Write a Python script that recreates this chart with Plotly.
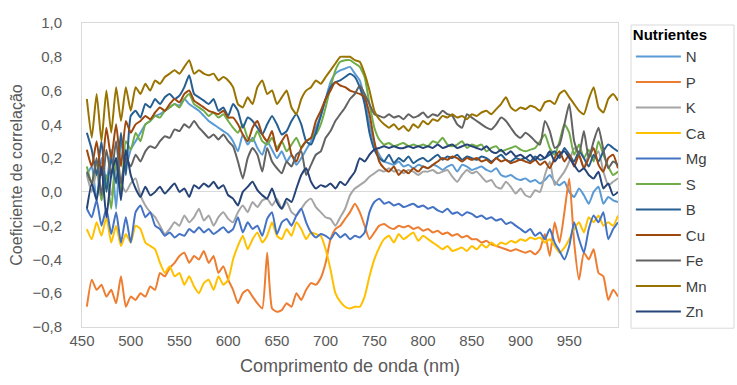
import plotly.graph_objects as go

wavelength = list(range(455, 1001, 5))

N = [0.10, 0.15, -0.05, 0.20, 0.05, 0.25, -0.10, 0.30, 0.15, 0.25,
     0.30, 0.35, 0.40, 0.42, 0.45, 0.46, 0.48, 0.50, 0.52, 0.51,
     0.55, 0.52, 0.50, 0.48, 0.45, 0.42, 0.40, 0.38, 0.36, 0.34,
     0.30, 0.24, 0.34, 0.28, 0.32, 0.26, 0.22, 0.30, 0.25, 0.20,
     0.24, 0.18, 0.22, 0.16, 0.20, 0.25, 0.30, 0.38, 0.45, 0.55,
     0.65, 0.70, 0.72, 0.73, 0.74, 0.70, 0.66, 0.55, 0.40, 0.28,
     0.22, 0.18, 0.17, 0.16, 0.18, 0.15, 0.16, 0.14, 0.16, 0.15,
     0.14, 0.16, 0.15, 0.13, 0.15, 0.16, 0.12, 0.16, 0.15, 0.13,
     0.14, 0.15, 0.13, 0.12, 0.14, 0.10, 0.09, 0.10, 0.08, 0.07,
     0.08, 0.06, 0.07, 0.05, 0.07, 0.10, 0.06, 0.04, 0.06, 0.00,
     -0.03, 0.02, -0.02, -0.07, 0.00, 0.03, -0.07, -0.03, -0.05, -0.06]

P = [-0.68, -0.52, -0.58, -0.55, -0.62, -0.58, -0.66, -0.50, -0.68, -0.62,
     -0.64, -0.60, -0.62, -0.56, -0.58, -0.48, -0.50, -0.45, -0.42, -0.38,
     -0.36, -0.42, -0.38, -0.40, -0.35, -0.42, -0.38, -0.48, -0.44, -0.52,
     -0.58, -0.66, -0.60, -0.58, -0.62, -0.66, -0.69, -0.36, -0.69, -0.71,
     -0.70, -0.66, -0.68, -0.60, -0.64, -0.58, -0.54, -0.55, -0.51, -0.42,
     -0.28, -0.22, -0.20, -0.16, -0.12, -0.07, -0.12, -0.20, -0.28, -0.24,
     -0.20, -0.19, -0.21, -0.22, -0.20, -0.21, -0.20, -0.22, -0.21, -0.23,
     -0.22, -0.24, -0.23, -0.25, -0.24, -0.26, -0.25, -0.27, -0.26, -0.28,
     -0.28, -0.30, -0.29, -0.31, -0.32, -0.33, -0.34, -0.35, -0.34, -0.35,
     -0.36, -0.35, -0.37, -0.34, -0.25, -0.38, -0.18, -0.30, -0.12, 0.08,
     -0.30, -0.52, -0.36, -0.40, -0.34, -0.48, -0.50, -0.64, -0.58, -0.62]

K = [0.10, 0.00, 0.12, -0.05, 0.08, -0.02, 0.15, 0.05, 0.00, 0.05,
     0.08, -0.02, -0.08, -0.12, -0.15, -0.20, -0.25, -0.22, -0.18, -0.20,
     -0.14, -0.18, -0.15, -0.10, -0.17, -0.14, -0.20, -0.15, -0.12, -0.16,
     -0.18, -0.12, -0.08, -0.12, -0.06, -0.09, -0.05, -0.04, -0.08, -0.04,
     -0.10, -0.06, -0.12, -0.14, -0.10, -0.06, -0.04, -0.09, -0.12, -0.15,
     -0.16, -0.20, -0.15, -0.10, -0.02, 0.02, 0.04, 0.06, 0.09, 0.11,
     0.13, 0.12, 0.14, 0.12, 0.13, 0.11, 0.13, 0.12, 0.10, 0.12,
     0.12, 0.13, 0.11, 0.12, 0.13, 0.09, 0.06, 0.10, 0.13, 0.11,
     0.12, 0.09, 0.06, 0.07, 0.03, 0.02, 0.06, 0.03, -0.01, 0.02,
     -0.02, -0.03, 0.01, 0.00, 0.10, 0.18, 0.04, 0.08, 0.12, 0.18,
     0.26, 0.22, 0.14, 0.22, 0.20, 0.24, 0.12, 0.04, 0.06, 0.08]

Ca = [-0.22, -0.28, -0.18, -0.26, -0.15, -0.30, -0.20, -0.32, -0.25, -0.30,
      -0.20, -0.22, -0.30, -0.32, -0.34, -0.42, -0.48, -0.44, -0.50, -0.48,
      -0.55, -0.50, -0.56, -0.60, -0.54, -0.52, -0.58, -0.50, -0.55, -0.52,
      -0.40, -0.32, -0.26, -0.34, -0.28, -0.24, -0.30, -0.26, -0.18, -0.26,
      -0.28, -0.22, -0.26, -0.18, -0.22, -0.28, -0.24, -0.25, -0.26, -0.34,
      -0.46, -0.60, -0.65, -0.68, -0.69, -0.68, -0.68, -0.62, -0.50, -0.40,
      -0.33, -0.28, -0.26, -0.30, -0.25, -0.28, -0.26, -0.24, -0.29, -0.26,
      -0.28, -0.30, -0.32, -0.34, -0.32, -0.35, -0.34, -0.33, -0.35, -0.32,
      -0.34, -0.31, -0.33, -0.30, -0.32, -0.30, -0.31, -0.29, -0.30, -0.28,
      -0.29, -0.27, -0.28, -0.27, -0.30, -0.28, -0.32, -0.36, -0.33, -0.28,
      -0.22, -0.18, -0.24, -0.15, -0.18, -0.14, -0.20, -0.18, -0.20, -0.14]

Mg = [-0.10, -0.15, -0.05, -0.20, -0.10, -0.25, -0.12, -0.30, -0.15, -0.30,
      -0.12, -0.08, -0.15, -0.12, -0.20, -0.22, -0.26, -0.24, -0.27, -0.25,
      -0.26, -0.22, -0.24, -0.21, -0.24, -0.22, -0.25, -0.23, -0.21, -0.24,
      -0.22, -0.15, -0.24, -0.18, -0.22, -0.20, -0.26, -0.16, -0.12, -0.25,
      -0.18, -0.16, -0.20, -0.14, -0.10, -0.18, -0.24, -0.27, -0.25, -0.26,
      -0.28, -0.24, -0.27, -0.25, -0.28, -0.26, -0.27, -0.24, -0.12, -0.06,
      -0.04, -0.07, -0.06, -0.08, -0.07, -0.09, -0.08, -0.07, -0.09, -0.08,
      -0.10, -0.09, -0.11, -0.12, -0.10, -0.13, -0.12, -0.14, -0.12, -0.13,
      -0.15, -0.14, -0.16, -0.15, -0.17, -0.16, -0.19, -0.18, -0.20, -0.22,
      -0.24, -0.22, -0.26, -0.24, -0.28, -0.22, -0.30, -0.35, -0.40, -0.32,
      -0.18, -0.28, -0.36, -0.22, -0.14, -0.18, -0.12, -0.28, -0.22, -0.18]

S = [0.15, 0.05, 0.18, -0.05, 0.10, -0.10, 0.20, 0.00, 0.30, 0.25,
     0.35, 0.30, 0.40, 0.42, 0.45, 0.44, 0.48, 0.50, 0.52, 0.50,
     0.55, 0.58, 0.52, 0.50, 0.48, 0.45, 0.47, 0.44, 0.46, 0.42,
     0.38, 0.35, 0.40, 0.32, 0.30, 0.36, 0.30, 0.28, 0.32, 0.26,
     0.30, 0.24, 0.28, 0.32, 0.26, 0.30, 0.32, 0.34, 0.40, 0.50,
     0.62, 0.72, 0.77, 0.78, 0.78, 0.76, 0.74, 0.68, 0.52, 0.38,
     0.31, 0.28, 0.29, 0.27, 0.28, 0.29, 0.27, 0.28, 0.27, 0.28,
     0.27, 0.30, 0.29, 0.32, 0.28, 0.27, 0.28, 0.30, 0.26, 0.28,
     0.27, 0.28, 0.24, 0.26, 0.27, 0.24, 0.25, 0.26, 0.27, 0.25,
     0.24, 0.25, 0.26, 0.30, 0.34, 0.26, 0.22, 0.30, 0.40, 0.35,
     0.22, 0.28, 0.20, 0.25, 0.18, 0.30, 0.22, 0.15, 0.10, 0.12]

B = [0.35, 0.25, 0.10, 0.30, 0.00, 0.20, 0.05, 0.35, 0.10, 0.45,
     0.48, 0.44, 0.52, 0.50, 0.55, 0.52, 0.56, 0.58, 0.55, 0.57,
     0.62, 0.69, 0.58, 0.56, 0.54, 0.52, 0.55, 0.48, 0.50, 0.45,
     0.52, 0.48, 0.38, 0.44, 0.42, 0.38, 0.34, 0.40, 0.45, 0.40,
     0.34, 0.36, 0.42, 0.46, 0.40, 0.30, 0.28, 0.35, 0.45, 0.55,
     0.62, 0.65, 0.66, 0.68, 0.70, 0.68, 0.62, 0.52, 0.35, 0.25,
     0.20, 0.18, 0.22, 0.17, 0.20, 0.18, 0.21, 0.17, 0.19, 0.20,
     0.18, 0.20, 0.22, 0.19, 0.21, 0.20, 0.22, 0.19, 0.21, 0.20,
     0.19, 0.21, 0.20, 0.18, 0.20, 0.22, 0.19, 0.18, 0.20, 0.19,
     0.20, 0.18, 0.21, 0.19, 0.20, 0.22, 0.24, 0.20, 0.26, 0.22,
     0.18, 0.24, 0.20, 0.15, 0.22, 0.18, 0.24, 0.28, 0.26, 0.24]

Cu = [0.25, 0.15, 0.30, 0.10, 0.38, 0.20, 0.40, 0.15, 0.42, 0.35,
      0.40, 0.42, 0.45, 0.43, 0.47, 0.50, 0.48, 0.52, 0.55, 0.53,
      0.58, 0.60, 0.54, 0.52, 0.50, 0.48, 0.47, 0.46, 0.48, 0.44,
      0.44, 0.40, 0.34, 0.30, 0.38, 0.42, 0.34, 0.30, 0.36, 0.24,
      0.30, 0.34, 0.22, 0.18, 0.26, 0.30, 0.32, 0.42, 0.48, 0.55,
      0.60, 0.65, 0.63, 0.62, 0.60, 0.59, 0.58, 0.56, 0.46, 0.30,
      0.18, 0.14, 0.12, 0.15, 0.10, 0.13, 0.11, 0.14, 0.12, 0.15,
      0.14, 0.16, 0.18, 0.20, 0.19, 0.21, 0.20, 0.18, 0.20, 0.19,
      0.20, 0.18, 0.19, 0.17, 0.20, 0.18, 0.19, 0.17, 0.18, 0.19,
      0.18, 0.17, 0.19, 0.16, 0.18, 0.14, 0.20, 0.24, 0.18, 0.22,
      0.15, 0.22, 0.14, 0.20, 0.26, 0.16, 0.12, 0.20, 0.22, 0.14]

Fe = [0.12, 0.05, 0.20, -0.02, 0.25, 0.10, 0.30, 0.05, 0.20, 0.15,
      0.22, 0.18, 0.24, 0.27, 0.26, 0.30, 0.33, 0.32, 0.37, 0.36,
      0.40, 0.38, 0.42, 0.38, 0.35, 0.32, 0.34, 0.31, 0.34, 0.30,
      0.27, 0.18, 0.08, 0.20, 0.26, 0.22, 0.12, 0.26, 0.18, 0.14,
      0.11, 0.18, 0.15, 0.22, 0.24, 0.10, 0.16, 0.22, 0.24, 0.32,
      0.36, 0.42, 0.46, 0.50, 0.55, 0.58, 0.63, 0.58, 0.52, 0.46,
      0.45, 0.44, 0.46, 0.44, 0.45, 0.43, 0.46, 0.44, 0.45, 0.47,
      0.44, 0.46, 0.45, 0.48, 0.46, 0.45, 0.40, 0.38, 0.46, 0.44,
      0.42, 0.40, 0.38, 0.37, 0.40, 0.44, 0.42, 0.38, 0.34, 0.32,
      0.35, 0.33, 0.30, 0.28, 0.42, 0.36, 0.26, 0.28, 0.40, 0.52,
      0.30, 0.22, 0.36, 0.20, 0.30, 0.38, 0.25, 0.14, 0.18, 0.16]

Mn = [0.55, 0.32, 0.58, 0.30, 0.60, 0.35, 0.62, 0.42, 0.62, 0.48,
      0.62, 0.58, 0.64, 0.60, 0.66, 0.64, 0.68, 0.70, 0.72, 0.70,
      0.74, 0.78, 0.70, 0.72, 0.70, 0.69, 0.70, 0.66, 0.68, 0.66,
      0.62, 0.52, 0.50, 0.56, 0.52, 0.62, 0.66, 0.58, 0.60, 0.52,
      0.56, 0.60, 0.50, 0.46, 0.55, 0.60, 0.62, 0.66, 0.64, 0.68,
      0.72, 0.76, 0.80, 0.80, 0.80, 0.78, 0.77, 0.70, 0.60, 0.48,
      0.43, 0.40, 0.38, 0.40, 0.37, 0.39, 0.36, 0.40, 0.38, 0.42,
      0.40, 0.43, 0.42, 0.45, 0.44, 0.46, 0.44, 0.45, 0.43, 0.46,
      0.45, 0.47, 0.48, 0.46, 0.49, 0.52, 0.56, 0.50, 0.48, 0.50,
      0.49, 0.51, 0.50, 0.48, 0.53, 0.54, 0.52, 0.58, 0.60, 0.56,
      0.52, 0.48, 0.46, 0.55, 0.62, 0.50, 0.47, 0.55, 0.58, 0.54]

Zn = [-0.10, 0.05, -0.05, 0.15, -0.15, 0.10, 0.20, -0.05, 0.25, 0.10,
      0.02, -0.03, 0.03, -0.02, 0.00, 0.03, -0.01, 0.02, 0.05, 0.00,
      0.02, -0.03, 0.04, 0.02, 0.05, 0.03, 0.06, 0.02, 0.04, -0.02,
      -0.04, -0.08, 0.00, 0.03, 0.06, 0.01, -0.02, -0.04, 0.02, -0.06,
      -0.10, -0.04, -0.06, 0.02, 0.10, 0.14, 0.06, 0.02, 0.04, 0.03,
      0.05, 0.02, 0.06, 0.04, 0.08, 0.12, 0.20, 0.18, 0.22, 0.25,
      0.26, 0.27, 0.26, 0.27, 0.26, 0.26, 0.27, 0.26, 0.27, 0.26,
      0.27, 0.26, 0.28, 0.26, 0.27, 0.28, 0.26, 0.27, 0.28, 0.27,
      0.26, 0.25, 0.27, 0.24, 0.23, 0.25, 0.22, 0.24, 0.21, 0.22,
      0.20, 0.22, 0.19, 0.22, 0.20, 0.24, 0.18, 0.22, 0.24, 0.20,
      0.16, 0.12, 0.14, 0.10, 0.08, 0.12, 0.02, 0.05, -0.02, 0.00]

names = ["N", "P", "K", "Ca", "Mg", "S", "B", "Cu", "Fe", "Mn", "Zn"]
series = [N, P, K, Ca, Mg, S, B, Cu, Fe, Mn, Zn]
colors = ["#5B9BD5", "#ED7D31", "#A5A5A5", "#FFC000", "#4472C4", "#70AD47",
          "#255E91", "#9E480E", "#636363", "#997300", "#264478"]

x_ticks = [450, 500, 550, 600, 650, 700, 750, 800, 850, 900, 950]

fig = go.Figure()
for nm, ys, c in zip(names, series, colors):
    fig.add_trace(go.Scatter(x=wavelength, y=ys, mode="lines", name=nm,
                             legendgroup=nm,
                             line=dict(color=c, width=2, shape="spline", smoothing=0.5)))

font_family = "Liberation Sans, Arial, sans-serif"
fig.update_layout(
    width=737, height=385,
    margin=dict(l=82, r=119, t=23, b=58),
    paper_bgcolor="white", plot_bgcolor="white",
    separators=",.",
    font=dict(family=font_family, size=15, color="#595959"),
    showlegend=True,
    legend=dict(
        x=1.024, y=1.007, xanchor="left", yanchor="top",
        borderwidth=0, bgcolor="rgba(0,0,0,0)",
        font=dict(size=15, color="#404040"),
        title=dict(text="<b>Nutrientes</b>", font=dict(size=15, color="#000000")),
        tracegroupgap=3, traceorder="grouped",
        itemwidth=45, maxheight=380,
    ),
    shapes=[dict(type="rect", xref="paper", yref="paper",
                 x0=1.0243, x1=1.2164, y0=-0.004, y1=0.9934,
                 line=dict(color="#D9D9D9", width=1), fillcolor="rgba(0,0,0,0)",
                 layer="below")],
    xaxis=dict(
        range=[450, 1000], tickvals=x_ticks, showgrid=False, zeroline=False,
        showline=True, mirror=True, linecolor="#D9D9D9", linewidth=1,
        ticks="", tickfont=dict(size=15, color="#595959"), automargin=False,
        title=dict(text="Comprimento de onda (nm)", font=dict(size=18, color="#595959"), standoff=11),
    ),
    yaxis=dict(
        range=[-0.8, 1.0], dtick=0.2, tick0=-0.8, tickformat=".1f",
        showgrid=False, zeroline=True, zerolinecolor="#D9D9D9", zerolinewidth=1,
        showline=True, mirror=True, linecolor="#D9D9D9", linewidth=1,
        ticks="", tickfont=dict(size=15, color="#595959"), automargin=False,
        ticklabelstandoff=16,
        title=dict(text="Coeficiente de correlação", font=dict(size=16, color="#595959"), standoff=5),
    ),
)

fig.write_html("out.html", post_script="document.body.style.margin='0';",
               config={"displayModeBar": False})
